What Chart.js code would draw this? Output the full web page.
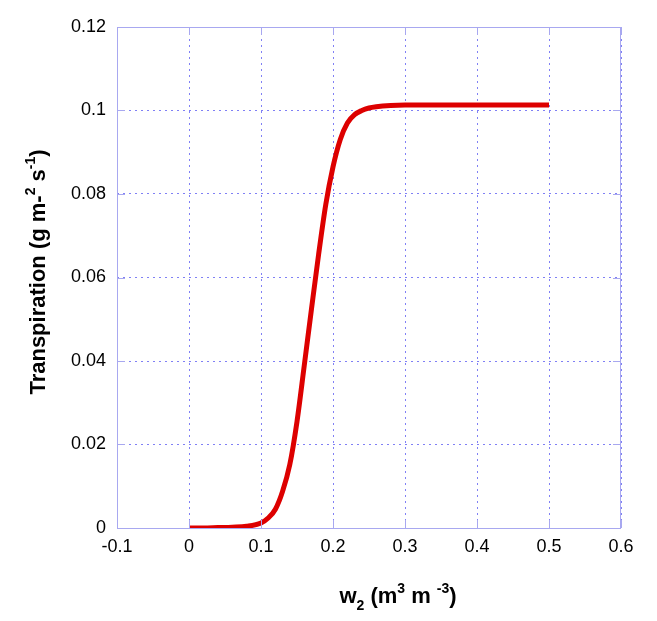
<!DOCTYPE html>
<html>
<head>
<meta charset="utf-8">
<script src="https://cdn.jsdelivr.net/npm/chart.js@4.4.0/dist/chart.umd.min.js"></script>
<style>
  html, body { margin: 0; padding: 0; background: #fff; }
  #wrap { width: 657px; height: 621px; }
</style>
</head>
<body>
<div id="wrap"><canvas id="transpChart" width="657" height="621"></canvas></div>
<script>
// Valori: contenuto d'acqua w2 e traspirazione
const w2Values = [0, 0.02, 0.04, 0.06, 0.08, 0.10, 0.11, 0.12, 0.13, 0.14, 0.15, 0.16, 0.17,
  0.18, 0.19, 0.20, 0.21, 0.22, 0.23, 0.24, 0.25, 0.26, 0.28, 0.30, 0.35, 0.40, 0.45, 0.50];
const transpValues = [0, 0.0000, 0.0001, 0.0002, 0.0004, 0.0012, 0.0024, 0.0045, 0.0088, 0.0152,
  0.0255, 0.0388, 0.0523, 0.0655, 0.0775, 0.0865, 0.0930, 0.0970, 0.0990, 0.1000, 0.1006,
  0.1009, 0.1012, 0.1013, 0.1013, 0.1013, 0.1013, 0.1013];

const xTicks = ['-0.1', '0', '0.1', '0.2', '0.3', '0.4', '0.5', '0.6'];
const yTicks = ['0', '0.02', '0.04', '0.06', '0.08', '0.1', '0.12'];

const frameColor = '#a8a8f0';
const gridColor = '#8080f5';
const tickFont = { family: 'Liberation Sans, Arial, sans-serif', size: 18 };

function fmt(v) {
  return String(Number(v.toFixed(3)));
}

// Cornice piena e tacche interne (come nell'originale)
const framePlugin = {
  id: 'frame',
  afterDraw(chart) {
    const { ctx, chartArea: a, scales } = chart;
    ctx.save();
    ctx.strokeStyle = frameColor;
    ctx.lineWidth = 1;
    ctx.strokeRect(a.left + 0.5, a.top + 0.5, a.right - a.left - 1, a.bottom - a.top);
    ctx.beginPath();
    xTicks.forEach(t => {
      const px = Math.round(scales.x.getPixelForValue(parseFloat(t))) + 0.5;
      ctx.moveTo(px, a.bottom); ctx.lineTo(px, a.bottom - 8);
      ctx.moveTo(px, a.top); ctx.lineTo(px, a.top + 8);
    });
    yTicks.forEach(t => {
      const py = Math.round(scales.y.getPixelForValue(parseFloat(t))) + 0.5;
      ctx.moveTo(a.left, py); ctx.lineTo(a.left + 8, py);
      ctx.moveTo(a.right, py); ctx.lineTo(a.right - 8, py);
    });
    ctx.stroke();
    ctx.restore();
  }
};

// Titoli degli assi con apici e pedici
function drawRich(ctx, parts, x, y) {
  // parts: [text, kind] kind = 'n' | 'sup' | 'sub'
  const big = 'bold 22px Liberation Sans, Arial, sans-serif';
  const small = 'bold 14px Liberation Sans, Arial, sans-serif';
  let total = 0;
  parts.forEach(p => {
    ctx.font = p[1] === 'n' ? big : small;
    total += ctx.measureText(p[0]).width;
  });
  let cx = x - total / 2;
  parts.forEach(p => {
    ctx.font = p[1] === 'n' ? big : small;
    const dy = p[1] === 'sup' ? -10 : (p[1] === 'sub' ? 7 : 0);
    ctx.fillText(p[0], cx, y + dy);
    cx += ctx.measureText(p[0]).width;
  });
}

const titlePlugin = {
  id: 'axisTitles',
  afterDraw(chart) {
    const ctx = chart.ctx;
    ctx.save();
    ctx.fillStyle = '#000';
    ctx.textBaseline = 'alphabetic';
    ctx.textAlign = 'left';
    drawRich(ctx, [['w', 'n'], ['2', 'sub'], [' (m', 'n'], ['3', 'sup'], [' m ', 'n'], ['-3', 'sup'], [')', 'n']], 398, 603);
    ctx.translate(45, 272);
    ctx.rotate(-Math.PI / 2);
    drawRich(ctx, [['Transpiration (g m', 'n'], ['-', 'n'], ['2', 'sup'], [' s', 'n'], ['-1', 'sup'], [')', 'n']], 0, 0);
    ctx.restore();
  }
};

const ctx = document.getElementById('transpChart').getContext('2d');

const chart = new Chart(ctx, {
  type: 'line',
  data: {
    datasets: [{
      data: w2Values.map((x, i) => ({ x: x, y: transpValues[i] })),
      borderColor: '#dd0000',
      borderWidth: 5,
      pointRadius: 0,
      fill: false,
      cubicInterpolationMode: 'monotone',
      borderCapStyle: 'butt'
    }]
  },
  options: {
    responsive: false,
    animation: false,
    layout: { padding: { left: 0, top: 27, right: 36, bottom: 0 } },
    plugins: { legend: { display: false }, tooltip: { enabled: false } },
    scales: {
      x: {
        type: 'linear',
        min: -0.1,
        max: 0.6,
        afterFit(scale) { scale.height = 93; },
        afterBuildTicks(scale) { scale.ticks = xTicks.map(t => ({ value: parseFloat(t) })); },
        ticks: { color: '#000', font: tickFont, padding: 8, callback: v => fmt(v), maxRotation: 0 },
        grid: { color: gridColor, lineWidth: 1, drawTicks: false },
        border: { display: false, dash: [2, 4] }
      },
      y: {
        type: 'linear',
        min: 0,
        max: 0.12,
        afterFit(scale) { scale.width = 117; },
        afterBuildTicks(scale) { scale.ticks = yTicks.map(t => ({ value: parseFloat(t) })); },
        ticks: { color: '#000', font: tickFont, padding: 11, callback: v => fmt(v) },
        grid: { color: gridColor, lineWidth: 1, drawTicks: false },
        border: { display: false, dash: [2, 4] }
      }
    }
  },
  plugins: [framePlugin, titlePlugin]
});
</script>
</body>
</html>
